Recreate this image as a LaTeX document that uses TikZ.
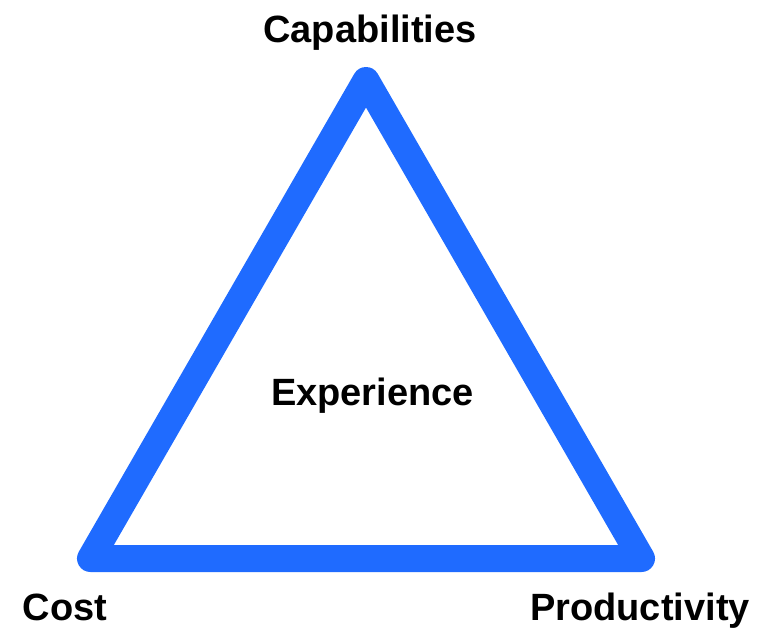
\documentclass[tikz,border=0pt]{standalone}
\usepackage{fontspec}
\setmainfont{Liberation Sans}
\definecolor{triblue}{HTML}{1F6BFF}
\begin{document}
\begin{tikzpicture}[x=1pt,y=-1pt,line join=round,line cap=round]
\def\W{771}
\def\H{629}
\tikzset{label text/.style={font=\fontsize{38}{40}\selectfont\bfseries,inner sep=0pt,anchor=base}}
\useasboundingbox (0,0) rectangle (\W,\H);
\coordinate (top) at (366,80.5);
\coordinate (left) at (90.5,558.5);
\coordinate (right) at (641.5,558.5);
\draw[triblue,line width=27pt] (top)--(right)--(left)--cycle;
\node[label text] (capabilities) at (370,42) {Capabilities};
\node[label text] (experience) at (372.5,405) {Experience};
\node[label text] (cost) at (65,620) {Cost};
\node[label text] (productivity) at (640,620) {Productivity};
\end{tikzpicture}
\end{document}
